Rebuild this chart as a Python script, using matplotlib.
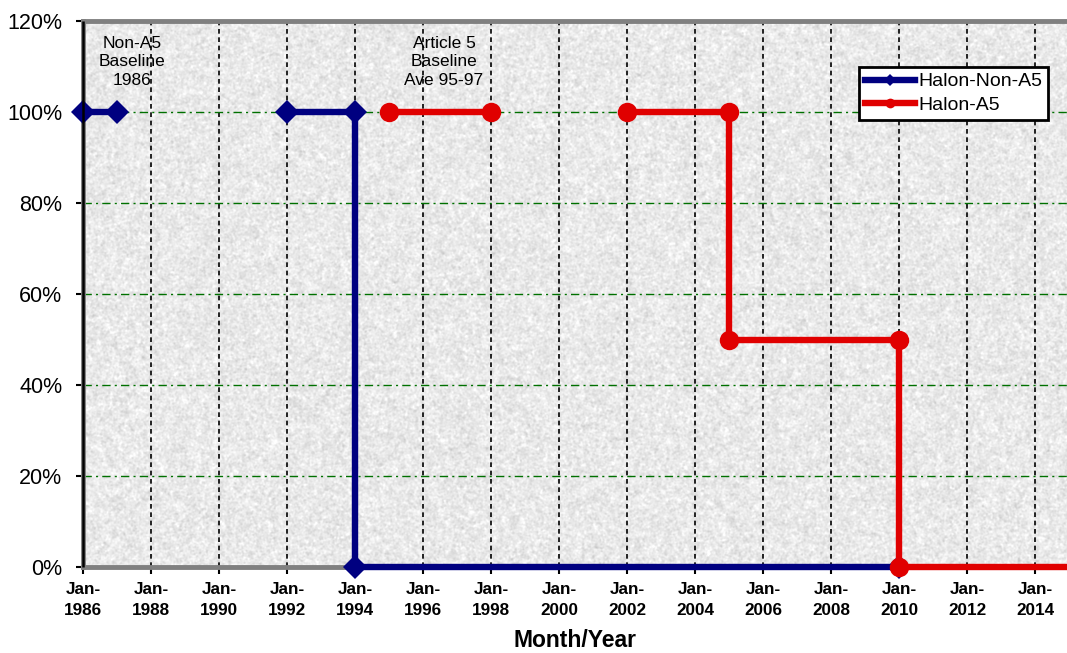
import numpy as np
import matplotlib
matplotlib.use("Agg")
import matplotlib.pyplot as plt
import matplotlib.dates as mdates
from matplotlib.ticker import FixedLocator, FuncFormatter
from datetime import date

plt.rcParams["font.family"] = ["Liberation Sans", "DejaVu Sans"]

# ---- data -------------------------------------------------------------
non_a5_dates = [date(1986, 1, 1), date(1987, 1, 1), date(1989, 7, 1),
                date(1992, 1, 1), date(1994, 1, 1), date(1994, 1, 1),
                date(2010, 1, 1)]
non_a5_values = [100, 100, np.nan, 100, 100, 0, 0]

a5_dates = [date(1995, 1, 1), date(1998, 1, 1), date(2000, 1, 1),
            date(2002, 1, 1), date(2005, 1, 1), date(2005, 1, 1),
            date(2010, 1, 1), date(2010, 1, 1), date(2015, 7, 1)]
a5_values = [100, 100, np.nan, 100, 100, 50, 50, 0, 0]

y_ticks = [0, 20, 40, 60, 80, 100, 120]
x_start, x_end = date(1986, 1, 1), date(2014, 12, 10)

# ---- figure -----------------------------------------------------------
fig = plt.figure(figsize=(10.67, 6.53), dpi=100)
ax = fig.add_axes([0.0778, 0.1317, 0.9222, 0.8361])

# granite-like plot area fill
rng = np.random.default_rng(7)
h, w = 546, 984
fy = np.fft.fftfreq(h)[:, None]
fx = np.fft.fftfreq(w)[None, :]
def smooth(a, s):
    k = np.exp(-2 * (np.pi * s) ** 2 * (fx ** 2 + fy ** 2))
    return np.real(np.fft.ifft2(np.fft.fft2(a) * k))
tex = (0.7 * smooth(rng.normal(size=(h, w)), 0.8)
       + 0.7 * smooth(rng.normal(size=(h, w)), 2.2))
tex = tex / tex.std()
tex = np.clip(0.915 + 0.03 * tex, 0.78, 1.0)
ax.imshow(tex, cmap="gray", vmin=0, vmax=1, extent=[0, 1, 0, 1],
          transform=ax.transAxes, aspect="auto", zorder=0,
          interpolation="bilinear")

ax.set_autoscale_on(False)
ax.set_xlim(x_start, x_end)
ax.set_ylim(0, 120)

# grid
ax.set_axisbelow(True)
ax.xaxis.set_major_locator(mdates.YearLocator(2))
ax.xaxis.set_major_formatter(mdates.DateFormatter("%b-\n%Y"))
ax.yaxis.set_major_locator(FixedLocator(y_ticks))
ax.yaxis.set_major_formatter(FuncFormatter(lambda v, p: f"{v:.0f}%"))
ax.grid(axis="x", color="black", linestyle=(0, (2.8, 2.2)), linewidth=1.2,
        zorder=0.5)
for yv in y_ticks[1:-1]:
    ax.axhline(yv, color="#007000", linestyle=(0, (6, 3, 1.5, 3)),
               linewidth=1.0, zorder=0.6)

# series
navy = "#000080"
red = "#E00000"
ax.plot(non_a5_dates, non_a5_values, color=navy, lw=4.6, marker="D",
        markersize=12.5, markeredgewidth=0, clip_on=False, zorder=3,
        solid_joinstyle="miter", label="Halon-Non-A5")
ax.plot(a5_dates, a5_values, color=red, lw=4.6, marker="o",
        markersize=14, markeredgewidth=0, clip_on=False, zorder=4,
        solid_joinstyle="miter", label="Halon-A5")

# frame
for side in ("left", "bottom", "top"):
    ax.spines[side].set_color("#808080")
    ax.spines[side].set_linewidth(3.5)
ax.spines["right"].set_visible(False)
ax.plot([0, 0], [0, 1], transform=ax.transAxes, color="black", lw=1.8,
        clip_on=False, zorder=5, solid_capstyle="butt")
ax.plot([0, 1], [0, 0], transform=ax.transAxes, color="black", lw=1.8,
        clip_on=False, zorder=2.5, solid_capstyle="butt")

ax.tick_params(axis="y", direction="out", length=5, width=1.5,
               labelsize=15.5, pad=10, colors="black")
ax.tick_params(axis="x", direction="out", length=5, width=1.5,
               labelsize=12.3, pad=6, colors="black")
for lab in ax.get_xticklabels():
    lab.set_fontweight("bold")
    lab.set_linespacing(1.45)

ax.set_xlabel("Month/Year", fontsize=16.5, fontweight="bold", labelpad=8)

# annotations
ax.text(0.0498, 0.925, "Non-A5\nBaseline\n1986", transform=ax.transAxes,
        ha="center", va="center", fontsize=12.5, linespacing=1.28, zorder=6)
ax.text(0.3669, 0.925, "Article 5\nBaseline\nAve 95-97",
        transform=ax.transAxes, ha="center", va="center", fontsize=12.5,
        linespacing=1.28, zorder=6)

leg = ax.legend(loc="upper right", bbox_to_anchor=(0.9807, 0.9158),
                borderaxespad=0, fontsize=14, frameon=True, fancybox=False,
                framealpha=1, edgecolor="black", markerscale=0.5,
                handlelength=2.6, handletextpad=0.15, labelspacing=0.3,
                borderpad=0.3)
leg.get_frame().set_linewidth(2.0)
leg.set_zorder(10)

fig.savefig("out.png", dpi=100)
